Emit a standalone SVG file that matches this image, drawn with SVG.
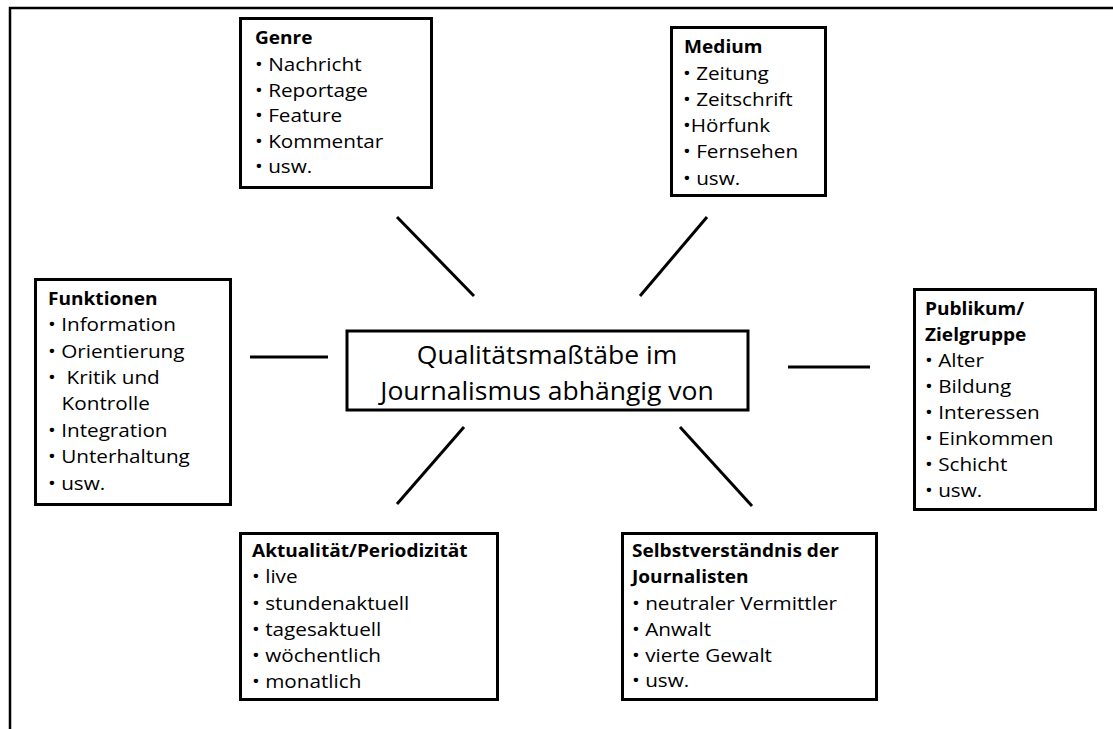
<svg xmlns="http://www.w3.org/2000/svg" width="1113" height="729" viewBox="0 0 1113 729">
  <style>
    .box { fill: #ffffff; stroke: #000000; stroke-width: 3; }
    .frame { fill: none; stroke: #000000; stroke-width: 2.5; }
    .link { stroke: #000000; stroke-width: 3; fill: none; }
    text { font-family: "Open Sans", "Noto Sans", "DejaVu Sans", sans-serif; fill: #000000; }
    .title { font-size: 17.5px; font-weight: bold; }
    .item { font-size: 19px; white-space: pre; }
    .center { font-size: 26px; text-anchor: middle; }
  </style>

  <rect width="1113" height="729" fill="#ffffff"/>
  <!-- page frame (top and left edges) -->
  <path class="frame" d="M10,729 V8 H1113"/>

  <!-- connectors -->
  <g id="connectors">
    <line class="link" x1="397" y1="217" x2="474" y2="296"/>
    <line class="link" x1="707" y1="217" x2="640" y2="296"/>
    <line class="link" x1="250" y1="357" x2="328" y2="357"/>
    <line class="link" x1="788" y1="367" x2="870" y2="367"/>
    <line class="link" x1="464" y1="427" x2="397" y2="504"/>
    <line class="link" x1="680" y1="427" x2="752" y2="506"/>
  </g>

  <!-- central node -->
  <g id="center">
    <rect class="box" x="347" y="331" width="401" height="79"/>
    <g transform="translate(547,0) scale(1.02,1)">
      <text class="center" x="0" y="364.5">Qualitätsmaßtäbe im</text>
      <text class="center" x="0" y="400.5">Journalismus abhängig von</text>
    </g>
  </g>

  <g id="genre">
    <rect class="box" x="240.5" y="18.5" width="191" height="169"/>
    <g transform="translate(255,0) scale(1.09,1)">
      <text class="title" x="0" y="44.5">Genre</text>
      <text class="item" x="0" y="71">• Nachricht</text>
      <text class="item" x="0" y="97">• Reportage</text>
      <text class="item" x="0" y="122.5">• Feature</text>
      <text class="item" x="0" y="148">• Kommentar</text>
      <text class="item" x="0" y="173.5">• usw.</text>
    </g>
  </g>

  <g id="medium">
    <rect class="box" x="671.5" y="27.5" width="154" height="168"/>
    <g transform="translate(683,0) scale(1.09,1)">
      <text class="title" x="1" y="53">Medium</text>
      <text class="item" x="0" y="80">• Zeitung</text>
      <text class="item" x="0" y="106">• Zeitschrift</text>
      <text class="item" x="0" y="132">•Hörfunk</text>
      <text class="item" x="0" y="158">• Fernsehen</text>
      <text class="item" x="0" y="185">• usw.</text>
    </g>
  </g>

  <g id="funktionen">
    <rect class="box" x="35.5" y="279.5" width="195" height="225"/>
    <g transform="translate(48,0) scale(1.09,1)">
      <text class="title" x="0" y="305">Funktionen</text>
      <text class="item" x="0" y="331.5">• Information</text>
      <text class="item" x="0" y="358">• Orientierung</text>
      <text class="item" x="0" y="384.5">•  Kritik und</text>
      <text class="item" x="12.5" y="410.5">Kontrolle</text>
      <text class="item" x="0" y="437">• Integration</text>
      <text class="item" x="0" y="463.5">• Unterhaltung</text>
      <text class="item" x="0" y="490">• usw.</text>
    </g>
  </g>

  <g id="publikum">
    <rect class="box" x="914.5" y="289.5" width="181" height="220"/>
    <g transform="translate(925,0) scale(1.09,1)">
      <text class="title" x="0" y="315">Publikum/</text>
      <text class="title" x="0" y="341.5">Zielgruppe</text>
      <text class="item" x="0" y="367">• Alter</text>
      <text class="item" x="0" y="393">• Bildung</text>
      <text class="item" x="0" y="419">• Interessen</text>
      <text class="item" x="0" y="445">• Einkommen</text>
      <text class="item" x="0" y="471.5">• Schicht</text>
      <text class="item" x="0" y="497.5">• usw.</text>
    </g>
  </g>

  <g id="aktualitaet">
    <rect class="box" x="240.5" y="533.5" width="257" height="166"/>
    <g transform="translate(252,0) scale(1.09,1)">
      <text class="title" x="0" y="557">Aktualität/Periodizität</text>
      <text class="item" x="0" y="583.5">• live</text>
      <text class="item" x="0" y="610">• stundenaktuell</text>
      <text class="item" x="0" y="636">• tagesaktuell</text>
      <text class="item" x="0" y="662.5">• wöchentlich</text>
      <text class="item" x="0" y="688.5">• monatlich</text>
    </g>
  </g>

  <g id="selbstverstaendnis">
    <rect class="box" x="622.5" y="533.5" width="254" height="166"/>
    <g transform="translate(632,0) scale(1.09,1)">
      <text class="title" x="0" y="557">Selbstverständnis der</text>
      <text class="title" x="0" y="583.5">Journalisten</text>
      <text class="item" x="0" y="610">• neutraler Vermittler</text>
      <text class="item" x="0" y="636">• Anwalt</text>
      <text class="item" x="0" y="662">• vierte Gewalt</text>
      <text class="item" x="0" y="687.5">• usw.</text>
    </g>
  </g>
</svg>
